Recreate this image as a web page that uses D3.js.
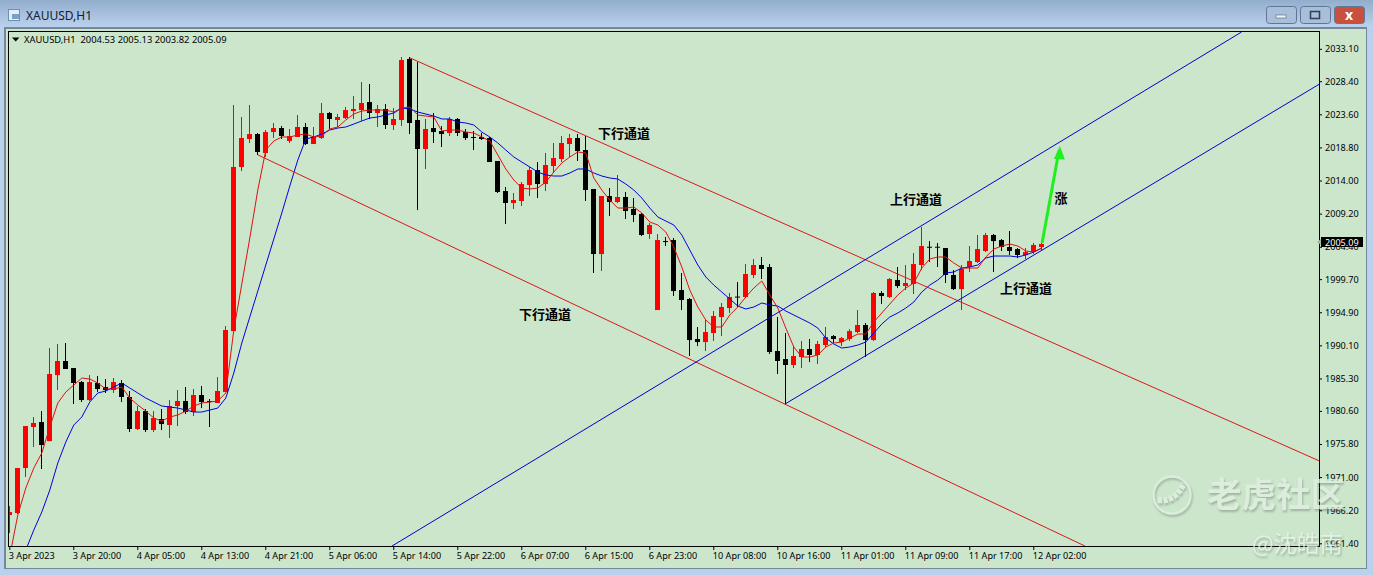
<!DOCTYPE html>
<html>
<head>
<meta charset="utf-8">
<script src="https://cdn.jsdelivr.net/npm/d3@7"></script>
<style>
html,body{margin:0;padding:0;background:#b9d1ec;overflow:hidden}
svg{display:block}
text{font-family:"Noto Sans",sans-serif}
.axis text{font-size:9.1px;fill:#000}
.axis line{stroke:#000}
.cn{font-family:"Noto Sans CJK SC",sans-serif;font-weight:700;font-size:13px;fill:#000}
</style>
</head>
<body>
<div id="chart"></div>
<script>
// candles, oldest first (red = up, black = down)
const opens=[1965.43,1965.72,1972.24,1978.19,1978.91,1976.15,1985.72,1987.76,1986.74,1984.71,
1982.10,1984.57,1983.99,1983.55,1984.57,1982.54,1977.90,1980.50,1977.75,1979.35,
1978.48,1981.23,1981.96,1980.36,1982.83,1981.96,1981.67,1983.26,1992.10,2015.89,
2019.95,2020.67,2017.92,2020.96,2021.54,2019.66,2020.24,2021.69,2019.22,2020.09,
2023.72,2022.70,2022.99,2024.00,2024.15,2025.31,2023.72,2024.30,2021.98,2022.70,
2031.55,2022.70,2018.50,2021.54,2021.11,2020.82,2022.85,2020.96,2020.24,2020.24,
2020.09,2016.76,2012.40,2010.67,2010.96,2013.28,2015.45,2013.42,2016.03,2017.05,
2019.22,2020.09,2018.35,2012.70,2003.27,2011.68,2010.81,2011.54,2009.80,2009.07,
2006.17,1995.15,2005.15,2005.30,1998.05,1996.75,1990.95,1990.51,1991.82,1994.14,
1995.44,1997.10,1997.04,2000.23,2001.68,2001.39,1989.21,1988.05,1987.18,1988.34,
1989.50,1988.63,1990.07,1991.38,1990.51,1990.95,1991.96,1992.98,1990.80,1997.62,
1997.04,1999.50,1998.63,1998.92,2001.68,2004.33,2004.33,2004.14,2000.23,1998.19,
2001.39,2002.11,2003.71,2006.03,2005.30,2004.29,2003.99,2003.13,2003.56,2004.29];
const closes=[1965.86,1972.24,1978.33,1978.77,1975.58,1985.87,1987.76,1986.60,1984.57,1982.10,
1984.71,1983.70,1983.55,1984.71,1982.54,1977.90,1980.50,1977.75,1979.49,1978.62,
1981.23,1981.96,1980.36,1982.83,1981.81,1981.81,1983.41,1992.25,2015.89,2020.09,
2020.67,2018.06,2020.96,2021.54,2020.38,2020.38,2021.69,2019.22,2020.24,2023.72,
2022.85,2023.14,2024.15,2024.30,2025.17,2023.72,2024.30,2021.98,2022.85,2031.40,
2022.27,2018.50,2021.40,2020.96,2020.67,2022.85,2020.82,2020.09,2020.15,2019.95,
2016.61,2012.26,2010.67,2011.10,2013.42,2015.45,2013.42,2016.18,2017.19,2019.37,
2020.09,2018.20,2012.55,2003.27,2011.68,2010.81,2011.54,2009.51,2008.93,2006.03,
2007.48,2005.30,2005.05,1997.90,1996.60,1990.80,1990.51,1991.96,1994.28,1995.59,
1997.04,1997.00,2000.37,2001.68,2001.10,1989.06,1987.76,1987.18,1988.48,1989.50,
1988.63,1990.22,1991.24,1990.95,1991.09,1992.10,1992.98,1990.80,1997.62,1997.18,
1999.65,1998.63,1999.07,2001.82,2004.43,2004.23,2004.23,2000.23,1998.19,2001.10,
2002.26,2003.99,2006.03,2005.15,2004.29,2003.71,2003.13,2003.56,2004.58,2004.72];
const highs=[1966.73,1972.24,1978.33,1979.64,1980.50,1989.64,1990.22,1990.37,1986.74,1984.86,
1985.72,1985.58,1985.15,1985.29,1985.00,1983.41,1981.23,1980.80,1980.50,1980.80,
1982.10,1983.55,1983.99,1983.70,1984.13,1982.25,1985.43,1992.83,2024.88,2023.14,
2024.88,2020.82,2021.25,2022.27,2021.83,2021.40,2023.43,2022.27,2021.69,2025.17,
2023.86,2023.57,2024.59,2026.18,2028.21,2027.92,2024.88,2025.02,2024.44,2031.84,
2031.84,2031.11,2022.85,2023.72,2021.83,2023.14,2022.99,2021.40,2021.11,2020.82,
2020.24,2016.76,2012.99,2012.12,2013.71,2015.89,2016.61,2017.92,2019.37,2020.38,
2020.67,2020.67,2020.38,2012.70,2011.68,2012.84,2014.73,2012.26,2011.39,2009.22,
2007.77,2006.17,2005.74,2005.59,2000.52,1996.89,1992.69,1993.70,1995.01,1996.17,
1997.62,1999.21,2001.82,2002.55,2002.84,2001.82,1994.14,1991.82,1989.93,1990.66,
1990.95,1990.66,1992.69,1991.53,1991.24,1992.40,1995.15,1993.27,1997.76,1997.90,
1999.79,2001.39,2001.68,2003.42,2007.19,2005.15,2004.87,2004.14,2000.95,2001.68,
2004.43,2006.03,2006.32,2006.17,2005.45,2006.61,2004.14,2004.14,2004.87,2004.87];
const lows=[1962.82,1965.57,1970.94,1975.29,1972.10,1976.15,1983.55,1986.60,1981.52,1981.81,
1981.96,1983.26,1983.12,1983.12,1981.81,1977.46,1977.75,1977.46,1977.46,1977.75,
1976.59,1978.33,1980.07,1979.78,1980.94,1978.19,1981.67,1983.26,1992.10,2015.30,
2019.37,2017.63,2017.34,2020.09,2019.95,2019.37,2020.24,2019.08,2019.22,2019.95,
2021.40,2021.69,2022.85,2022.85,2022.56,2022.85,2021.69,2021.40,2021.25,2021.83,
2020.67,2009.65,2015.60,2019.37,2018.79,2020.38,2020.38,2019.80,2018.35,2019.80,
2016.61,2012.12,2007.62,2009.80,2010.23,2011.68,2011.39,2012.40,2015.02,2016.61,
2017.34,2016.76,2010.96,2000.52,2000.81,2008.78,2010.67,2008.35,2007.91,2005.88,
2005.45,1995.15,2004.43,1997.18,1995.15,1988.48,1989.93,1989.21,1990.66,1991.38,
1994.72,1995.59,1996.89,1999.79,1999.65,1988.77,1985.87,1981.52,1986.74,1986.74,
1987.61,1987.32,1989.79,1990.37,1989.93,1990.66,1991.82,1988.34,1990.66,1996.02,
1996.89,1998.34,1998.05,1997.47,2000.95,2002.11,2001.39,1999.07,1998.05,1995.15,
2000.66,2001.97,2003.56,2000.66,2003.71,2003.13,2002.69,2002.55,2003.27,2003.71];
// moving averages, one value per bar
const fastMA=[1959.48,1965.43,1969.34,1972.24,1974.42,1978.19,1981.67,1983.26,1984.28,1985.29,
1985.15,1984.57,1983.70,1983.70,1983.99,1982.39,1981.38,1980.50,1979.49,1979.06,
1979.64,1979.93,1980.50,1981.23,1981.67,1981.81,1981.96,1983.12,1992.25,1998.92,
2005.59,2012.55,2018.35,2019.66,2020.24,2020.24,2020.53,2020.67,2020.24,2020.38,
2021.40,2021.69,2022.70,2023.57,2024.00,2024.15,2024.15,2024.15,2023.86,2024.44,
2024.59,2023.43,2023.28,2023.14,2021.11,2021.25,2021.25,2020.96,2020.82,2020.24,
2019.66,2017.63,2015.60,2014.00,2012.84,2012.70,2012.84,2013.71,2015.16,2016.47,
2017.34,2018.06,2017.92,2014.29,2012.55,2011.10,2009.94,2009.94,2010.09,2009.22,
2007.91,2007.48,2006.46,2004.29,2001.39,1998.05,1995.59,1993.70,1992.69,1992.69,
1994.43,1995.59,1997.04,1998.34,1999.36,1997.33,1995.44,1992.54,1989.79,1988.34,
1988.34,1988.63,1989.79,1990.37,1990.51,1991.09,1991.67,1991.67,1993.41,1994.72,
1996.02,1997.33,1998.34,1999.07,2001.24,2002.55,2002.84,2002.84,2001.97,2001.24,
2001.24,2001.24,2002.84,2003.99,2004.43,2004.72,2004.43,2003.71,2003.56,2004.14];
const slowMA=[1953.10,1956.73,1960.35,1963.25,1965.86,1969.05,1972.97,1976.01,1978.48,1979.64,
1981.81,1983.12,1983.41,1983.99,1984.57,1983.84,1983.12,1982.39,1981.81,1981.23,
1981.09,1980.94,1980.65,1980.36,1980.36,1980.65,1980.94,1982.39,1986.02,1990.37,
1994.14,1997.90,2001.68,2005.45,2009.22,2013.13,2016.90,2019.95,2020.24,2020.67,
2021.25,2021.54,2021.69,2022.12,2022.56,2022.99,2023.14,2023.43,2023.72,2024.44,
2024.30,2023.86,2023.57,2023.28,2022.85,2022.85,2022.41,2022.27,2021.98,2020.96,
2020.24,2019.37,2018.35,2017.34,2016.61,2015.89,2015.16,2014.73,2014.58,2014.58,
2015.02,2015.60,2015.60,2015.02,2014.58,2014.29,2014.15,2013.42,2012.55,2011.39,
2009.94,2008.64,2008.06,2007.48,2006.03,2003.85,2001.68,1999.94,1998.77,1997.76,
1996.75,1995.73,1995.30,1995.59,1996.17,1995.88,1995.73,1995.01,1994.43,1993.85,
1993.27,1992.54,1991.09,1990.22,1989.64,1989.79,1990.07,1990.51,1991.82,1993.12,
1994.14,1994.72,1995.44,1996.31,1997.76,1998.77,1999.50,2000.52,2000.66,2001.24,
2001.39,2001.68,2002.69,2002.98,2002.98,2002.98,2002.84,2003.13,2003.56,2004.14];
// trendlines as [bar, price] anchor pairs
const redUpper=[[50.1,2031.70],[163.78,1973.26]];
const redLower=[[31.09,2017.63],[134.46,1960.93]];
const blueUpper=[[47.84,1960.93],[154.03,2035.46]];
const blueLower=[[96.96,1981.52],[163.78,2027.92]];
const arrow=[[129.1,2004.87],[131.2,2018.2]];
const priceTicks=[2033.10,2028.40,2023.60,2018.80,2014.00,2009.20,2004.40,1999.70,1994.90,1990.10,1985.30,1980.60,1975.80,1971.00,1966.20,1961.40];
const timeBars=[0,8,16,24,32,40,48,56,64,72,80,88,96,104,112,120,128];
const timeLabels=['3 Apr 2023','3 Apr 20:00','4 Apr 05:00','4 Apr 13:00','4 Apr 21:00','5 Apr 06:00','5 Apr 14:00','5 Apr 22:00','6 Apr 07:00','6 Apr 15:00','6 Apr 23:00','10 Apr 08:00','10 Apr 16:00','11 Apr 01:00','11 Apr 09:00','11 Apr 17:00','12 Apr 02:00'];
const channelLabels=[['下行通道',624,132],['下行通道',545,313.5],['上行通道',916,198.5],['上行通道',1026,287.5],['涨',1061,197.5]];
const lastPrice=2005.09;
const header='XAUUSD,H1  2004.53 2005.13 2003.82 2005.09';

const W=1373,H=575,m={t:31.5,r:1319.5,b:546.5,l:8.5};
const svg=d3.select('#chart').append('svg').attr('width',W).attr('height',H);
const defs=svg.append('defs');
const tb=defs.append('linearGradient').attr('id','tb').attr('x2',0).attr('y2',1);
tb.append('stop').attr('offset',0).attr('stop-color','#93adcd');
tb.append('stop').attr('offset',1).attr('stop-color','#bcd3ee');
defs.append('clipPath').attr('id','plot').append('rect').attr('x',m.l).attr('y',m.t).attr('width',m.r-m.l).attr('height',m.b-m.t);

// window frame
svg.append('rect').attr('width',W).attr('height',28).attr('fill','url(#tb)');
svg.append('rect').attr('x',4).attr('y',27).attr('width',1363).attr('height',542).attr('fill','#76879b');
svg.append('rect').attr('x',6).attr('y',29).attr('width',1360).attr('height',539).attr('fill','#cce6cc');
svg.append('rect').attr('x',8.5).attr('y',9.5).attr('width',11).attr('height',11).attr('fill','#e4eef8').attr('stroke','#6d8fb3');
svg.append('rect').attr('x',12).attr('y',14).attr('width',7).attr('height',5).attr('fill','#7aa0c8');
svg.append('text').attr('x',26).attr('y',20).attr('font-size',12).attr('fill','#10202f').text('XAUUSD,H1');
[[1266,'#a9bfd9'],[1300,'#a9bfd9'],[1334,'#c9503c']].forEach(([bx,col],i)=>{
  svg.append('rect').attr('x',bx+.5).attr('y',6.5).attr('width',30).attr('height',17).attr('rx',3).attr('fill',col).attr('stroke','#5f7794');
  if(i==0) svg.append('rect').attr('x',bx+10).attr('y',15).attr('width',10).attr('height',3).attr('fill','#eef3f8').attr('stroke','#55677c').attr('stroke-width',.6);
  if(i==1) svg.append('rect').attr('x',bx+10.5).attr('y',11.5).attr('width',9).attr('height',7).attr('fill','none').attr('stroke','#2f3e50').attr('stroke-width',1.5);
  if(i==2) svg.append('text').attr('x',bx+15).attr('y',20).attr('text-anchor','middle').attr('font-size',14).attr('font-weight',700).attr('fill','#fff').text('x');
});

const x=d3.scaleLinear().domain([0,129]).range([9.3,1041.3]);
const y=d3.scaleLinear().domain([1961.4,2033.1]).range([542.8,48.3]);
const g=svg.append('g').attr('clip-path','url(#plot)');

// candles
const bars=opens.map((o,i)=>({i,o,c:closes[i],h:highs[i],l:lows[i]}));
const col=d=>d.c>=d.o?'#ff0000':'#000000';
g.selectAll('.wick').data(bars).join('line').attr('class','wick')
  .attr('x1',d=>Math.round(x(d.i))+.5).attr('x2',d=>Math.round(x(d.i))+.5)
  .attr('y1',d=>y(d.h)).attr('y2',d=>y(d.l)).attr('stroke',col).attr('stroke-width',1);
g.selectAll('.body').data(bars).join('rect').attr('class','body')
  .attr('x',d=>Math.round(x(d.i))-2).attr('width',5)
  .attr('y',d=>y(Math.max(d.o,d.c))).attr('height',d=>Math.max(1,Math.abs(y(d.o)-y(d.c))))
  .attr('fill',col);

// moving averages
const ln=d3.line().x((d,i)=>x(i)+.5).y(d=>y(d));
g.append('path').datum(slowMA).attr('fill','none').attr('stroke','#0000e0').attr('stroke-width',1).attr('d',ln);
g.append('path').datum(fastMA).attr('fill','none').attr('stroke','#e01010').attr('stroke-width',1).attr('d',ln);

// channels
const seg=d3.line().x(d=>x(d[0])).y(d=>y(d[1]));
[[redUpper,'#d81818'],[redLower,'#d81818'],[blueUpper,'#0000cc'],[blueLower,'#0000cc']].forEach(([a,c])=>{
  g.append('path').datum(a).attr('fill','none').attr('stroke',c).attr('stroke-width',1).attr('d',seg);
});

// green arrow
g.append('path').datum(arrow).attr('fill','none').attr('stroke','#1fee1f').attr('stroke-width',3).attr('d',seg);
const [ax,ay]=[x(arrow[1][0]),y(arrow[1][1])];
g.append('path').attr('d',`M${ax+1},${ay-5}L${ax-5},${ay+8}L${ax+6},${ay+8.5}Z`).attr('fill','#1fee1f');

channelLabels.forEach(([t,lx,ly])=>{
  svg.append('text').attr('class','cn').attr('x',lx).attr('y',ly).attr('text-anchor','middle').attr('dominant-baseline','central').text(t);
});

// frame and axes
svg.append('rect').attr('x',m.l).attr('y',m.t).attr('width',m.r-m.l).attr('height',m.b-m.t).attr('fill','none').attr('stroke','#000');
const ya=svg.append('g').attr('class','axis').attr('transform',`translate(${m.r-.5},0.5)`)
  .call(d3.axisRight(y).tickValues(priceTicks).tickFormat(d3.format('.2f')).tickSize(3).tickPadding(3));
ya.select('.domain').remove();
const xa=svg.append('g').attr('class','axis').attr('transform',`translate(0,${m.b-.5})`)
  .call(d3.axisBottom(x).tickValues(timeBars).tickFormat((d,i)=>timeLabels[i]).tickSize(4).tickPadding(3));
xa.select('.domain').remove();
xa.selectAll('text').attr('text-anchor','start').attr('dx',-1);

// last price tag
svg.append('rect').attr('x',1321).attr('y',237).attr('width',42).attr('height',10).attr('fill','#000');
svg.append('path').attr('d','M1317,242L1321,239V245Z').attr('fill','#9fb89f');
svg.append('text').attr('x',1325).attr('y',245.5).attr('font-size',9.1).attr('fill','#fff').text(lastPrice.toFixed(2));

// header line
svg.append('path').attr('d','M12,37.5H19.5L15.7,41.5Z').attr('fill','#000');
svg.append('text').attr('x',24).attr('y',42.5).attr('font-size',9.4).attr('fill','#000').attr('xml:space','preserve').style('white-space','pre').text(header);

// watermark
const wm=svg.append('g').attr('opacity',.72).style('filter','drop-shadow(1px 2px 1px rgba(95,115,95,.6))');
wm.append('circle').attr('cx',1172).attr('cy',495).attr('r',18.5).attr('fill','none').attr('stroke','#e4f0e4').attr('stroke-width',2.4);
wm.append('path').attr('d','M1158,500Q1175,503 1184,483').attr('fill','none').attr('stroke','#e4f0e4').attr('stroke-width',6).attr('stroke-dasharray','4,1.5');
wm.append('text').attr('x',1207).attr('y',507).attr('font-weight',700).attr('font-size',34.5).attr('fill','#e4f0e4').style('font-family','"Noto Sans CJK SC"').text('老虎社区');
wm.append('text').attr('x',1252).attr('y',552).attr('font-size',23).attr('fill','#edf6ed').style('font-family','"Noto Sans CJK SC"').text('@沈皓南');
</script>
</body>
</html>
